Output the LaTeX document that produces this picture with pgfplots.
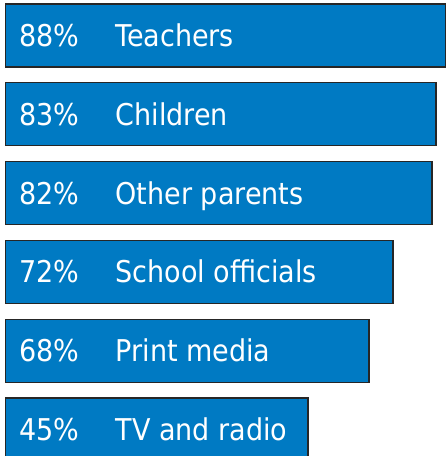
\documentclass[border=0pt]{standalone}
\usepackage{pgfplots}
\pgfplotsset{compat=1.18}
\usepackage{pgfplotstable}
\usepackage{fontspec}
\setmainfont{DejaVu Sans Condensed}
\definecolor{barblue}{RGB}{0,122,195}

% k = row, len = drawn bar length (px), pct = shown share
\pgfplotstableread[col sep=comma]{
k,len,pct,name
0,440,88,Teachers
1,430.5,83,Children
2,426.5,82,Other parents
3,387.5,72,School officials
4,363.5,68,Print media
5,302.5,45,TV and radio
}\bars

\begin{document}
\begin{tikzpicture}
\begin{axis}[
    scale only axis, width=446pt, height=456pt,
    hide axis,
    xmin=-5.5, xmax=440.5,
    ymin=-0.4505, ymax=5.336, y dir=reverse,
    every node near coord/.style={anchor=west, inner sep=0pt, text=white,
        text height=21.9pt, text depth=0pt, font=\fontsize{30}{36}\selectfont},
]
    \addplot[xbar, bar width=0.8, bar shift=0pt, draw=black!85, line width=1.3pt, fill=barblue]
        table[x=len, y=k] {\bars};
    \addplot[draw=none, nodes near coords={\pgfplotspointmeta\%}, point meta=explicit symbolic]
        table[x expr=13.5, y=k, meta=pct] {\bars};
    \addplot[draw=none, nodes near coords, point meta=explicit symbolic]
        table[x expr=110, y=k, meta=name] {\bars};
\end{axis}
\pgfresetboundingbox
\path (current axis.south west) rectangle (current axis.north east);
\end{tikzpicture}
\end{document}
